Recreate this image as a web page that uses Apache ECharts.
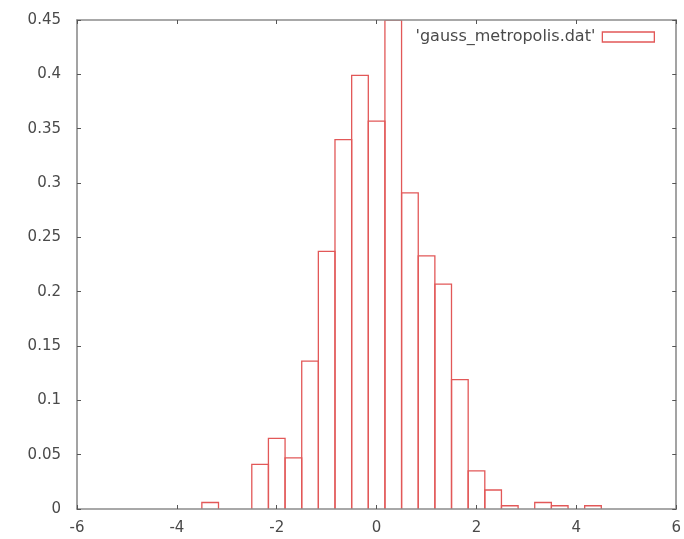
<!DOCTYPE html>
<html>
<head>
<meta charset="utf-8">
<script src="https://cdn.jsdelivr.net/npm/echarts@6/dist/echarts.min.js"></script>
<style>
  html, body { margin: 0; padding: 0; background: #ffffff; }
  #chart { width: 684px; height: 539px; }
</style>
</head>
<body>
<div id="chart"></div>
<script>
// ---- data ----
const seriesName = "'gauss_metropolis.dat'";
const binCenters = [-3.333, -2.333, -2.0, -1.667, -1.333, -1.0, -0.667, -0.333, 0.0, 0.333,
                    0.667, 1.0, 1.333, 1.667, 2.0, 2.333, 2.667, 3.333, 3.667, 4.333];
const density    = [0.006, 0.041, 0.065, 0.047, 0.136, 0.237, 0.340, 0.399, 0.357, 0.46,
                    0.291, 0.233, 0.207, 0.119, 0.035, 0.0175, 0.003, 0.006, 0.003, 0.003];
const binWidth = 1 / 3;
const xTicks = { min: -6, max: 6, interval: 2 };
const yTicks = { min: 0, max: 0.45, interval: 0.05 };

const RED = '#e25858';
const AXIS = '#8c8c8c';
const TEXT = '#4a4a4a';
const FONT = 'DejaVu Sans';

const chart = echarts.init(document.getElementById('chart'), null, { renderer: 'canvas' });

const baseAxis = {
  type: 'value',
  z: 5,
  axisLine: { show: true, onZero: false, lineStyle: { color: AXIS, width: 1.6 } },
  axisTick: { show: true, inside: true, length: 4, lineStyle: { color: '#555', width: 1 } },
  splitLine: { show: false }
};

const option = {
  backgroundColor: '#ffffff',
  animation: false,
  grid: { left: 77, top: 20, width: 603, height: 489, containLabel: false },
  legend: {
    data: [seriesName],
    right: 24,
    top: 24,
    align: 'right',
    icon: 'rect',
    itemWidth: 52,
    itemHeight: 10,
    itemGap: 14,
    itemStyle: { color: 'rgba(0,0,0,0)', borderColor: RED, borderWidth: 1.3 },
    textStyle: { color: TEXT, fontFamily: FONT, fontSize: 16, padding: [0, 2, 0, 0] }
  },
  xAxis: [
    Object.assign({}, baseAxis, {
      position: 'bottom',
      min: xTicks.min, max: xTicks.max, interval: xTicks.interval,
      axisLabel: { color: TEXT, fontFamily: FONT, fontSize: 15, margin: 12 }
    }),
    Object.assign({}, baseAxis, {
      position: 'top',
      min: xTicks.min, max: xTicks.max, interval: xTicks.interval,
      axisLabel: { show: false }
    })
  ],
  yAxis: [
    Object.assign({}, baseAxis, {
      position: 'left',
      min: yTicks.min, max: yTicks.max, interval: yTicks.interval,
      axisLabel: { color: TEXT, fontFamily: FONT, fontSize: 15, margin: 16 }
    }),
    Object.assign({}, baseAxis, {
      position: 'right',
      min: yTicks.min, max: yTicks.max, interval: yTicks.interval,
      axisLabel: { show: false }
    })
  ],
  series: [{
    name: seriesName,
    type: 'custom',
    xAxisIndex: 0,
    yAxisIndex: 0,
    clip: true,
    z: 2,
    itemStyle: { color: 'rgba(0,0,0,0)', borderColor: RED },
    data: binCenters.map((c, i) => [c, density[i]]),
    renderItem: function (params, api) {
      const x = api.value(0);
      const y = Math.min(api.value(1), yTicks.max);
      const pBL = api.coord([x - binWidth / 2, 0]);
      const pTR = api.coord([x + binWidth / 2, y]);
      return {
        type: 'polyline',
        shape: { points: [[pBL[0], pBL[1]], [pBL[0], pTR[1]], [pTR[0], pTR[1]], [pTR[0], pBL[1]]] },
        style: { fill: null, stroke: RED, lineWidth: 1.3 }
      };
    }
  }]
};

chart.setOption(option);
</script>
</body>
</html>
